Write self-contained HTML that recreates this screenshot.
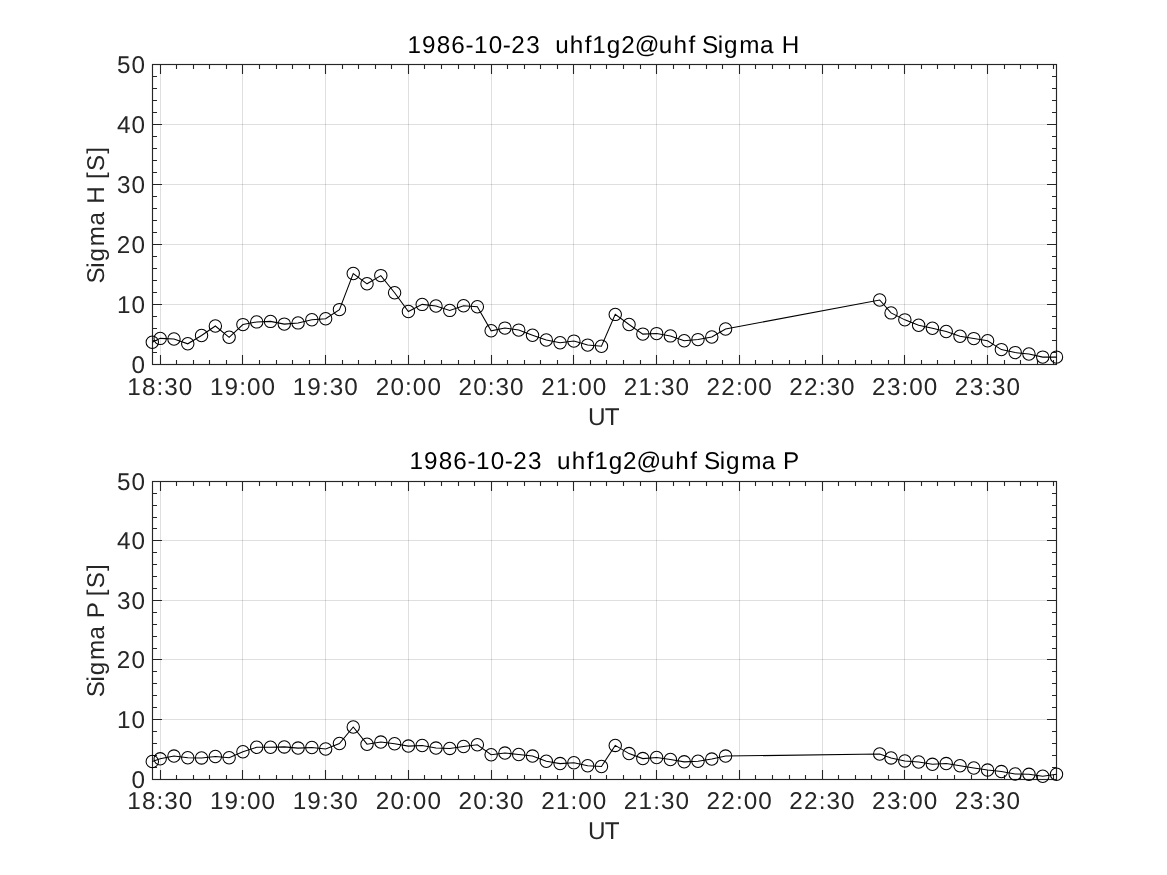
<!DOCTYPE html>
<html lang="en">
<head>
<meta charset="utf-8">
<title>1986-10-23 uhf1g2@uhf Sigma H / Sigma P</title>
<style>
html,body{margin:0;padding:0;background:#fff;}
body{width:1167px;height:875px;overflow:hidden;font-family:"Liberation Sans",sans-serif;}
svg{display:block;will-change:transform;}
</style>
</head>
<body>
<svg width="1167" height="875" viewBox="0 0 1167 875">
<rect width="1167" height="875" fill="#fff"/>
<path d="M160.5 64.5V364.5M242.5 64.5V364.5M325.5 64.5V364.5M408.5 64.5V364.5M491.5 64.5V364.5M573.5 64.5V364.5M656.5 64.5V364.5M739.5 64.5V364.5M822.5 64.5V364.5M904.5 64.5V364.5M987.5 64.5V364.5" stroke="#262626" stroke-opacity="0.15" stroke-width="1" fill="none"/>
<path d="M152.5 304.5H1056.5M152.5 244.5H1056.5M152.5 184.5H1056.5M152.5 124.5H1056.5" stroke="#262626" stroke-opacity="0.15" stroke-width="1" fill="none"/>
<path d="M160.5 364.5v-9.5M160.5 64.5v9.5M176.5 364.5v-4.5M176.5 64.5v4.5M193.5 364.5v-4.5M193.5 64.5v4.5M209.5 364.5v-4.5M209.5 64.5v4.5M226.5 364.5v-4.5M226.5 64.5v4.5M242.5 364.5v-9.5M242.5 64.5v9.5M259.5 364.5v-4.5M259.5 64.5v4.5M276.5 364.5v-4.5M276.5 64.5v4.5M292.5 364.5v-4.5M292.5 64.5v4.5M309.5 364.5v-4.5M309.5 64.5v4.5M325.5 364.5v-9.5M325.5 64.5v9.5M342.5 364.5v-4.5M342.5 64.5v4.5M358.5 364.5v-4.5M358.5 64.5v4.5M375.5 364.5v-4.5M375.5 64.5v4.5M391.5 364.5v-4.5M391.5 64.5v4.5M408.5 364.5v-9.5M408.5 64.5v9.5M424.5 364.5v-4.5M424.5 64.5v4.5M441.5 364.5v-4.5M441.5 64.5v4.5M458.5 364.5v-4.5M458.5 64.5v4.5M474.5 364.5v-4.5M474.5 64.5v4.5M491.5 364.5v-9.5M491.5 64.5v9.5M507.5 364.5v-4.5M507.5 64.5v4.5M524.5 364.5v-4.5M524.5 64.5v4.5M540.5 364.5v-4.5M540.5 64.5v4.5M557.5 364.5v-4.5M557.5 64.5v4.5M573.5 364.5v-9.5M573.5 64.5v9.5M590.5 364.5v-4.5M590.5 64.5v4.5M606.5 364.5v-4.5M606.5 64.5v4.5M623.5 364.5v-4.5M623.5 64.5v4.5M640.5 364.5v-4.5M640.5 64.5v4.5M656.5 364.5v-9.5M656.5 64.5v9.5M673.5 364.5v-4.5M673.5 64.5v4.5M689.5 364.5v-4.5M689.5 64.5v4.5M706.5 364.5v-4.5M706.5 64.5v4.5M722.5 364.5v-4.5M722.5 64.5v4.5M739.5 364.5v-9.5M739.5 64.5v9.5M755.5 364.5v-4.5M755.5 64.5v4.5M772.5 364.5v-4.5M772.5 64.5v4.5M789.5 364.5v-4.5M789.5 64.5v4.5M805.5 364.5v-4.5M805.5 64.5v4.5M822.5 364.5v-9.5M822.5 64.5v9.5M838.5 364.5v-4.5M838.5 64.5v4.5M855.5 364.5v-4.5M855.5 64.5v4.5M871.5 364.5v-4.5M871.5 64.5v4.5M888.5 364.5v-4.5M888.5 64.5v4.5M904.5 364.5v-9.5M904.5 64.5v9.5M921.5 364.5v-4.5M921.5 64.5v4.5M937.5 364.5v-4.5M937.5 64.5v4.5M954.5 364.5v-4.5M954.5 64.5v4.5M971.5 364.5v-4.5M971.5 64.5v4.5M987.5 364.5v-9.5M987.5 64.5v9.5M1004.5 364.5v-4.5M1004.5 64.5v4.5M1020.5 364.5v-4.5M1020.5 64.5v4.5M1037.5 364.5v-4.5M1037.5 64.5v4.5M1053.5 364.5v-4.5M1053.5 64.5v4.5M152.5 352.5h4.5M1056.5 352.5h-4.5M152.5 340.5h4.5M1056.5 340.5h-4.5M152.5 328.5h4.5M1056.5 328.5h-4.5M152.5 316.5h4.5M1056.5 316.5h-4.5M152.5 304.5h9.5M1056.5 304.5h-9.5M152.5 292.5h4.5M1056.5 292.5h-4.5M152.5 280.5h4.5M1056.5 280.5h-4.5M152.5 268.5h4.5M1056.5 268.5h-4.5M152.5 256.5h4.5M1056.5 256.5h-4.5M152.5 244.5h9.5M1056.5 244.5h-9.5M152.5 232.5h4.5M1056.5 232.5h-4.5M152.5 220.5h4.5M1056.5 220.5h-4.5M152.5 208.5h4.5M1056.5 208.5h-4.5M152.5 196.5h4.5M1056.5 196.5h-4.5M152.5 184.5h9.5M1056.5 184.5h-9.5M152.5 172.5h4.5M1056.5 172.5h-4.5M152.5 160.5h4.5M1056.5 160.5h-4.5M152.5 148.5h4.5M1056.5 148.5h-4.5M152.5 136.5h4.5M1056.5 136.5h-4.5M152.5 124.5h9.5M1056.5 124.5h-9.5M152.5 112.5h4.5M1056.5 112.5h-4.5M152.5 100.5h4.5M1056.5 100.5h-4.5M152.5 88.5h4.5M1056.5 88.5h-4.5M152.5 76.5h4.5M1056.5 76.5h-4.5" stroke="#262626" stroke-width="1.1" fill="none"/>
<rect x="152.5" y="64.5" width="904" height="300" fill="none" stroke="#262626" stroke-width="1.15"/>
<polyline points="152.3,342.3 160.18,338.4 173.97,339 187.76,343.8 201.55,335.5 215.34,326 229.13,337.3 242.92,324.6 256.71,321.9 270.5,321.4 284.29,324.1 298.08,322.9 311.87,319.7 325.66,318.75 339.45,309.6 353.24,273.5 367.03,283.8 380.82,275.6 394.61,292.7 408.4,311.5 422.19,304.4 435.98,306 449.77,310.4 463.56,305.7 477.35,306.8 491.14,330.8 504.93,328.1 518.72,330.1 532.51,335.2 546.3,340 560.09,342.7 573.88,341.1 587.67,345.1 601.46,346.2 615.25,314.4 629.04,324.5 642.83,334.1 656.62,333.6 670.41,335.9 684.2,340.7 697.99,339.6 711.78,337 725.57,329 879.7,300 891.05,312.9 904.84,319.85 918.63,325.3 932.42,328.2 946.21,331.5 960,336.2 973.79,338.6 987.58,340.7 1001.37,349.6 1015.16,352.6 1028.95,354 1042.74,357.1 1056.5,357.1" fill="none" stroke="#000" stroke-width="1.05" stroke-linejoin="miter"/>
<g fill="none" stroke="#000" stroke-width="1.05">
<circle cx="152.3" cy="342.3" r="6.2"/>
<circle cx="160.18" cy="338.4" r="6.2"/>
<circle cx="173.97" cy="339" r="6.2"/>
<circle cx="187.76" cy="343.8" r="6.2"/>
<circle cx="201.55" cy="335.5" r="6.2"/>
<circle cx="215.34" cy="326" r="6.2"/>
<circle cx="229.13" cy="337.3" r="6.2"/>
<circle cx="242.92" cy="324.6" r="6.2"/>
<circle cx="256.71" cy="321.9" r="6.2"/>
<circle cx="270.5" cy="321.4" r="6.2"/>
<circle cx="284.29" cy="324.1" r="6.2"/>
<circle cx="298.08" cy="322.9" r="6.2"/>
<circle cx="311.87" cy="319.7" r="6.2"/>
<circle cx="325.66" cy="318.75" r="6.2"/>
<circle cx="339.45" cy="309.6" r="6.2"/>
<circle cx="353.24" cy="273.5" r="6.2"/>
<circle cx="367.03" cy="283.8" r="6.2"/>
<circle cx="380.82" cy="275.6" r="6.2"/>
<circle cx="394.61" cy="292.7" r="6.2"/>
<circle cx="408.4" cy="311.5" r="6.2"/>
<circle cx="422.19" cy="304.4" r="6.2"/>
<circle cx="435.98" cy="306" r="6.2"/>
<circle cx="449.77" cy="310.4" r="6.2"/>
<circle cx="463.56" cy="305.7" r="6.2"/>
<circle cx="477.35" cy="306.8" r="6.2"/>
<circle cx="491.14" cy="330.8" r="6.2"/>
<circle cx="504.93" cy="328.1" r="6.2"/>
<circle cx="518.72" cy="330.1" r="6.2"/>
<circle cx="532.51" cy="335.2" r="6.2"/>
<circle cx="546.3" cy="340" r="6.2"/>
<circle cx="560.09" cy="342.7" r="6.2"/>
<circle cx="573.88" cy="341.1" r="6.2"/>
<circle cx="587.67" cy="345.1" r="6.2"/>
<circle cx="601.46" cy="346.2" r="6.2"/>
<circle cx="615.25" cy="314.4" r="6.2"/>
<circle cx="629.04" cy="324.5" r="6.2"/>
<circle cx="642.83" cy="334.1" r="6.2"/>
<circle cx="656.62" cy="333.6" r="6.2"/>
<circle cx="670.41" cy="335.9" r="6.2"/>
<circle cx="684.2" cy="340.7" r="6.2"/>
<circle cx="697.99" cy="339.6" r="6.2"/>
<circle cx="711.78" cy="337" r="6.2"/>
<circle cx="725.57" cy="329" r="6.2"/>
<circle cx="879.7" cy="300" r="6.2"/>
<circle cx="891.05" cy="312.9" r="6.2"/>
<circle cx="904.84" cy="319.85" r="6.2"/>
<circle cx="918.63" cy="325.3" r="6.2"/>
<circle cx="932.42" cy="328.2" r="6.2"/>
<circle cx="946.21" cy="331.5" r="6.2"/>
<circle cx="960" cy="336.2" r="6.2"/>
<circle cx="973.79" cy="338.6" r="6.2"/>
<circle cx="987.58" cy="340.7" r="6.2"/>
<circle cx="1001.37" cy="349.6" r="6.2"/>
<circle cx="1015.16" cy="352.6" r="6.2"/>
<circle cx="1028.95" cy="354" r="6.2"/>
<circle cx="1042.74" cy="357.1" r="6.2"/>
<circle cx="1056.5" cy="357.1" r="6.2"/>
</g>
<path d="M160.5 481.5V779.5M242.5 481.5V779.5M325.5 481.5V779.5M408.5 481.5V779.5M491.5 481.5V779.5M573.5 481.5V779.5M656.5 481.5V779.5M739.5 481.5V779.5M822.5 481.5V779.5M904.5 481.5V779.5M987.5 481.5V779.5" stroke="#262626" stroke-opacity="0.15" stroke-width="1" fill="none"/>
<path d="M152.5 719.5H1056.5M152.5 659.5H1056.5M152.5 600.5H1056.5M152.5 540.5H1056.5" stroke="#262626" stroke-opacity="0.15" stroke-width="1" fill="none"/>
<path d="M160.5 779.5v-9.5M160.5 481.5v9.5M176.5 779.5v-4.5M176.5 481.5v4.5M193.5 779.5v-4.5M193.5 481.5v4.5M209.5 779.5v-4.5M209.5 481.5v4.5M226.5 779.5v-4.5M226.5 481.5v4.5M242.5 779.5v-9.5M242.5 481.5v9.5M259.5 779.5v-4.5M259.5 481.5v4.5M276.5 779.5v-4.5M276.5 481.5v4.5M292.5 779.5v-4.5M292.5 481.5v4.5M309.5 779.5v-4.5M309.5 481.5v4.5M325.5 779.5v-9.5M325.5 481.5v9.5M342.5 779.5v-4.5M342.5 481.5v4.5M358.5 779.5v-4.5M358.5 481.5v4.5M375.5 779.5v-4.5M375.5 481.5v4.5M391.5 779.5v-4.5M391.5 481.5v4.5M408.5 779.5v-9.5M408.5 481.5v9.5M424.5 779.5v-4.5M424.5 481.5v4.5M441.5 779.5v-4.5M441.5 481.5v4.5M458.5 779.5v-4.5M458.5 481.5v4.5M474.5 779.5v-4.5M474.5 481.5v4.5M491.5 779.5v-9.5M491.5 481.5v9.5M507.5 779.5v-4.5M507.5 481.5v4.5M524.5 779.5v-4.5M524.5 481.5v4.5M540.5 779.5v-4.5M540.5 481.5v4.5M557.5 779.5v-4.5M557.5 481.5v4.5M573.5 779.5v-9.5M573.5 481.5v9.5M590.5 779.5v-4.5M590.5 481.5v4.5M606.5 779.5v-4.5M606.5 481.5v4.5M623.5 779.5v-4.5M623.5 481.5v4.5M640.5 779.5v-4.5M640.5 481.5v4.5M656.5 779.5v-9.5M656.5 481.5v9.5M673.5 779.5v-4.5M673.5 481.5v4.5M689.5 779.5v-4.5M689.5 481.5v4.5M706.5 779.5v-4.5M706.5 481.5v4.5M722.5 779.5v-4.5M722.5 481.5v4.5M739.5 779.5v-9.5M739.5 481.5v9.5M755.5 779.5v-4.5M755.5 481.5v4.5M772.5 779.5v-4.5M772.5 481.5v4.5M789.5 779.5v-4.5M789.5 481.5v4.5M805.5 779.5v-4.5M805.5 481.5v4.5M822.5 779.5v-9.5M822.5 481.5v9.5M838.5 779.5v-4.5M838.5 481.5v4.5M855.5 779.5v-4.5M855.5 481.5v4.5M871.5 779.5v-4.5M871.5 481.5v4.5M888.5 779.5v-4.5M888.5 481.5v4.5M904.5 779.5v-9.5M904.5 481.5v9.5M921.5 779.5v-4.5M921.5 481.5v4.5M937.5 779.5v-4.5M937.5 481.5v4.5M954.5 779.5v-4.5M954.5 481.5v4.5M971.5 779.5v-4.5M971.5 481.5v4.5M987.5 779.5v-9.5M987.5 481.5v9.5M1004.5 779.5v-4.5M1004.5 481.5v4.5M1020.5 779.5v-4.5M1020.5 481.5v4.5M1037.5 779.5v-4.5M1037.5 481.5v4.5M1053.5 779.5v-4.5M1053.5 481.5v4.5M152.5 767.5h4.5M1056.5 767.5h-4.5M152.5 755.5h4.5M1056.5 755.5h-4.5M152.5 743.5h4.5M1056.5 743.5h-4.5M152.5 731.5h4.5M1056.5 731.5h-4.5M152.5 719.5h9.5M1056.5 719.5h-9.5M152.5 707.5h4.5M1056.5 707.5h-4.5M152.5 695.5h4.5M1056.5 695.5h-4.5M152.5 683.5h4.5M1056.5 683.5h-4.5M152.5 671.5h4.5M1056.5 671.5h-4.5M152.5 659.5h9.5M1056.5 659.5h-9.5M152.5 648.5h4.5M1056.5 648.5h-4.5M152.5 636.5h4.5M1056.5 636.5h-4.5M152.5 624.5h4.5M1056.5 624.5h-4.5M152.5 612.5h4.5M1056.5 612.5h-4.5M152.5 600.5h9.5M1056.5 600.5h-9.5M152.5 588.5h4.5M1056.5 588.5h-4.5M152.5 576.5h4.5M1056.5 576.5h-4.5M152.5 564.5h4.5M1056.5 564.5h-4.5M152.5 552.5h4.5M1056.5 552.5h-4.5M152.5 540.5h9.5M1056.5 540.5h-9.5M152.5 528.5h4.5M1056.5 528.5h-4.5M152.5 517.5h4.5M1056.5 517.5h-4.5M152.5 505.5h4.5M1056.5 505.5h-4.5M152.5 493.5h4.5M1056.5 493.5h-4.5" stroke="#262626" stroke-width="1.1" fill="none"/>
<rect x="152.5" y="481.5" width="904" height="298" fill="none" stroke="#262626" stroke-width="1.15"/>
<polyline points="152.3,761.5 160.18,758.8 173.97,756.1 187.76,757.7 201.55,757.9 215.34,756.5 229.13,757.7 242.92,751.7 256.71,747.2 270.5,747.2 284.29,746.9 298.08,748.1 311.87,747.45 325.66,749 339.45,743.5 353.24,727 367.03,744.2 380.82,742.1 394.61,743.75 408.4,746.1 422.19,745.5 435.98,748.1 449.77,748.4 463.56,746.5 477.35,744.7 491.14,754.7 504.93,753.1 518.72,754.45 532.51,756.1 546.3,761.2 560.09,763.6 573.88,762.7 587.67,765.7 601.46,766.5 615.25,745.4 629.04,753.6 642.83,758.6 656.62,757.5 670.41,759.5 684.2,761.85 697.99,761.2 711.78,759.1 725.57,756.1 879.7,754 891.05,757.9 904.84,760.9 918.63,762 932.42,764.3 946.21,763.6 960,765.7 973.79,768 987.58,770.1 1001.37,771.6 1015.16,773.9 1028.95,774.3 1042.74,776.2 1056.5,774.2" fill="none" stroke="#000" stroke-width="1.05" stroke-linejoin="miter"/>
<g fill="none" stroke="#000" stroke-width="1.05">
<circle cx="152.3" cy="761.5" r="6.2"/>
<circle cx="160.18" cy="758.8" r="6.2"/>
<circle cx="173.97" cy="756.1" r="6.2"/>
<circle cx="187.76" cy="757.7" r="6.2"/>
<circle cx="201.55" cy="757.9" r="6.2"/>
<circle cx="215.34" cy="756.5" r="6.2"/>
<circle cx="229.13" cy="757.7" r="6.2"/>
<circle cx="242.92" cy="751.7" r="6.2"/>
<circle cx="256.71" cy="747.2" r="6.2"/>
<circle cx="270.5" cy="747.2" r="6.2"/>
<circle cx="284.29" cy="746.9" r="6.2"/>
<circle cx="298.08" cy="748.1" r="6.2"/>
<circle cx="311.87" cy="747.45" r="6.2"/>
<circle cx="325.66" cy="749" r="6.2"/>
<circle cx="339.45" cy="743.5" r="6.2"/>
<circle cx="353.24" cy="727" r="6.2"/>
<circle cx="367.03" cy="744.2" r="6.2"/>
<circle cx="380.82" cy="742.1" r="6.2"/>
<circle cx="394.61" cy="743.75" r="6.2"/>
<circle cx="408.4" cy="746.1" r="6.2"/>
<circle cx="422.19" cy="745.5" r="6.2"/>
<circle cx="435.98" cy="748.1" r="6.2"/>
<circle cx="449.77" cy="748.4" r="6.2"/>
<circle cx="463.56" cy="746.5" r="6.2"/>
<circle cx="477.35" cy="744.7" r="6.2"/>
<circle cx="491.14" cy="754.7" r="6.2"/>
<circle cx="504.93" cy="753.1" r="6.2"/>
<circle cx="518.72" cy="754.45" r="6.2"/>
<circle cx="532.51" cy="756.1" r="6.2"/>
<circle cx="546.3" cy="761.2" r="6.2"/>
<circle cx="560.09" cy="763.6" r="6.2"/>
<circle cx="573.88" cy="762.7" r="6.2"/>
<circle cx="587.67" cy="765.7" r="6.2"/>
<circle cx="601.46" cy="766.5" r="6.2"/>
<circle cx="615.25" cy="745.4" r="6.2"/>
<circle cx="629.04" cy="753.6" r="6.2"/>
<circle cx="642.83" cy="758.6" r="6.2"/>
<circle cx="656.62" cy="757.5" r="6.2"/>
<circle cx="670.41" cy="759.5" r="6.2"/>
<circle cx="684.2" cy="761.85" r="6.2"/>
<circle cx="697.99" cy="761.2" r="6.2"/>
<circle cx="711.78" cy="759.1" r="6.2"/>
<circle cx="725.57" cy="756.1" r="6.2"/>
<circle cx="879.7" cy="754" r="6.2"/>
<circle cx="891.05" cy="757.9" r="6.2"/>
<circle cx="904.84" cy="760.9" r="6.2"/>
<circle cx="918.63" cy="762" r="6.2"/>
<circle cx="932.42" cy="764.3" r="6.2"/>
<circle cx="946.21" cy="763.6" r="6.2"/>
<circle cx="960" cy="765.7" r="6.2"/>
<circle cx="973.79" cy="768" r="6.2"/>
<circle cx="987.58" cy="770.1" r="6.2"/>
<circle cx="1001.37" cy="771.6" r="6.2"/>
<circle cx="1015.16" cy="773.9" r="6.2"/>
<circle cx="1028.95" cy="774.3" r="6.2"/>
<circle cx="1042.74" cy="776.2" r="6.2"/>
<circle cx="1056.5" cy="774.2" r="6.2"/>
</g>
<g font-family="'Liberation Sans', sans-serif" font-size="24.27" fill="#262626" style="font-kerning:none" text-rendering="geometricPrecision">
<text x="407.5 422.12 436.76 451.33 465.46 474.04 488.73 502.86 511.26 526.17 540.44 555.19 569.77 584.71 592.23 606.78 621.16 634.68 658.86 673.43 688.38 695.76 702.06 717.8 724.05 739.31 759.91 774.81 781.66" y="52.9" fill="#000">1986-10-23 uhf1g2@uhf Sigma H</text>
<text x="116.92 131.58" y="72.95">50</text>
<text x="117.01 131.58" y="132.95">40</text>
<text x="117.04 131.58" y="192.95">30</text>
<text x="116.71 131.58" y="252.95">20</text>
<text x="116.89 131.58" y="312.95">10</text>
<text x="131.58" y="372.95">0</text>
<text x="127.19 141.89 156.42 164.2 178.74" y="395">18:30</text>
<text x="209.93 224.55 239.16 246.91 261.48" y="395">19:00</text>
<text x="292.67 307.29 321.9 329.68 344.22" y="395">19:30</text>
<text x="375.65 390.52 405.06 412.81 427.38" y="395">20:00</text>
<text x="458.39 473.26 487.8 495.58 510.12" y="395">20:30</text>
<text x="541.13 555.88 570.54 578.29 592.86" y="395">21:00</text>
<text x="623.87 638.62 653.28 661.06 675.6" y="395">21:30</text>
<text x="706.61 721.18 736.02 743.77 758.34" y="395">22:00</text>
<text x="789.35 803.92 818.76 826.54 841.08" y="395">22:30</text>
<text x="872.09 887 901.5 909.25 923.82" y="395">23:00</text>
<text x="954.83 969.74 984.24 992.02 1006.56" y="395">23:30</text>
<text x="587.96 604.7" y="424.8">UT</text>
<text transform="translate(104.45 0) rotate(-90)" x="-283.45 -267.72 -261.47 -246.21 -225.61 -210.71 -203.85 -186.21 -179 -170.96 -153.73" y="0">Sigma H [S]</text>
<text x="409.42 424.04 438.68 453.25 467.38 475.96 490.66 504.79 513.19 528.09 542.37 557.11 571.69 586.63 594.15 608.7 623.08 636.6 660.78 675.36 690.3 697.68 703.99 719.72 725.97 741.23 761.83 776.73 782.93" y="468.8" fill="#000">1986-10-23 uhf1g2@uhf Sigma P</text>
<text x="116.92 131.58" y="489.95">50</text>
<text x="117.01 131.58" y="548.95">40</text>
<text x="117.04 131.58" y="608.95">30</text>
<text x="116.71 131.58" y="667.95">20</text>
<text x="116.89 131.58" y="727.95">10</text>
<text x="131.58" y="787.95">0</text>
<text x="127.19 141.89 156.42 164.2 178.74" y="808.8">18:30</text>
<text x="209.93 224.55 239.16 246.91 261.48" y="808.8">19:00</text>
<text x="292.67 307.29 321.9 329.68 344.22" y="808.8">19:30</text>
<text x="375.65 390.52 405.06 412.81 427.38" y="808.8">20:00</text>
<text x="458.39 473.26 487.8 495.58 510.12" y="808.8">20:30</text>
<text x="541.13 555.88 570.54 578.29 592.86" y="808.8">21:00</text>
<text x="623.87 638.62 653.28 661.06 675.6" y="808.8">21:30</text>
<text x="706.61 721.18 736.02 743.77 758.34" y="808.8">22:00</text>
<text x="789.35 803.92 818.76 826.54 841.08" y="808.8">22:30</text>
<text x="872.09 887 901.5 909.25 923.82" y="808.8">23:00</text>
<text x="954.83 969.74 984.24 992.02 1006.56" y="808.8">23:30</text>
<text x="587.96 604.7" y="838.8">UT</text>
<text transform="translate(104.45 0) rotate(-90)" x="-697.25 -681.51 -675.26 -660 -639.4 -624.5 -618.3 -603.41 -596.2 -588.17 -570.94" y="0">Sigma P [S]</text>
</g>
</svg>
</body>
</html>
